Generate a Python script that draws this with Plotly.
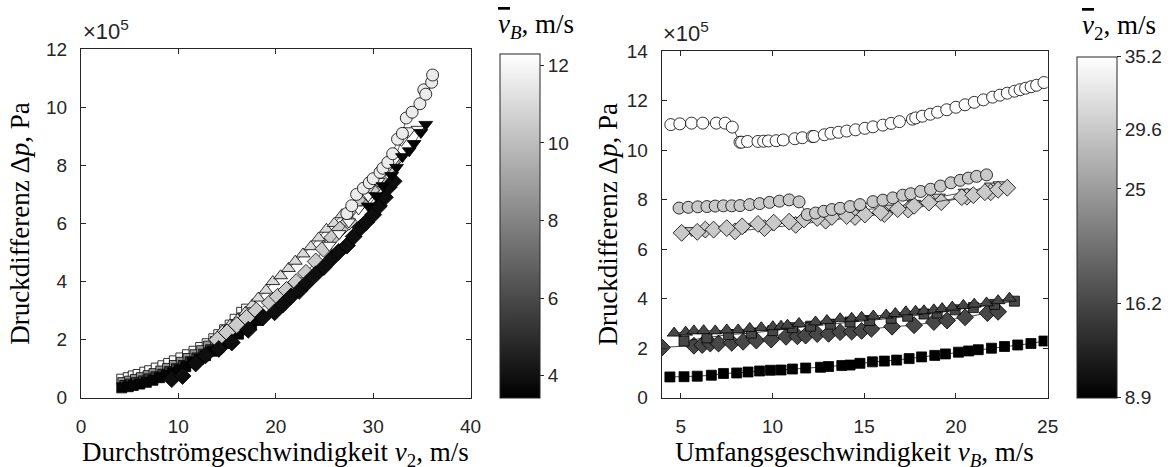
import plotly.graph_objects as go

# ---------------- left panel: dp vs v2, colour = mean v_B ----------------
L_sq_black_x = [4.19,4.86,5.37,6.04,6.72,7.39,8.07,8.74,9.42,10.10,10.76,11.44,12.12,12.79,13.47,14.15,14.82,15.49,16.17,16.84,17.52,18.20]
L_sq_black_y = [0.34,0.38,0.42,0.47,0.53,0.60,0.69,0.77,0.86,0.96,1.07,1.21,1.33,1.45,1.60,1.73,1.87,2.03,2.19,2.34,2.50,2.66]
L_sq_dark_x = [4.5,5.1,5.7,6.4,7.0,7.7,8.4,9.1,9.8,10.5,11.2,11.9,12.6,13.3,14.0,14.7,15.4,16.1]
L_sq_dark_y = [0.42,0.47,0.52,0.58,0.65,0.72,0.81,0.90,1.00,1.11,1.24,1.37,1.50,1.65,1.80,1.96,2.13,2.32]
L_sq_mid_x = [4.3,5.0,5.6,6.2,6.9,7.5,8.2,8.9,9.6,10.3,11.0,11.7,12.4,13.1,13.8,14.5,15.2,15.9,16.6]
L_sq_mid_y = [0.52,0.57,0.63,0.69,0.76,0.83,0.92,1.01,1.11,1.22,1.35,1.48,1.62,1.78,1.94,2.12,2.31,2.52,2.75]
L_sq_white_x = [4.19,4.86,5.37,5.87,6.55,7.06,7.73,8.41,9.01,9.59,10.26,10.94,11.61,12.29,12.96,13.64,14.15,14.75,15.32,15.83,16.50,17.01]
L_sq_white_y = [0.64,0.69,0.75,0.80,0.88,0.93,1.02,1.10,1.18,1.27,1.37,1.48,1.60,1.73,1.86,2.03,2.17,2.34,2.50,2.70,2.94,3.05]
L_dia_black_x = [9.32,10.43,11.78,12.79,14.15,15.49,17.18,18.70,19.88,20.73,21.57,22.41,23.19,24.10,24.94,25.79,26.46,27.31,28.0,28.7,29.3,30.0,30.6,31.2,31.6,32.1]
L_dia_black_y = [0.64,0.75,1.18,1.46,1.68,1.90,2.34,2.77,2.94,3.21,3.49,3.68,3.95,4.25,4.50,4.80,5.02,5.24,5.55,5.85,6.05,6.30,6.60,6.90,7.25,7.45]
L_tri_dn_black_x = [29.5,30.3,31.0,31.9,32.4,33.0,33.7,34.2,34.9,35.4]
L_tri_dn_black_y = [6.60,6.95,7.30,7.65,7.93,8.30,8.50,8.75,9.13,9.41]
L_tri_up_x = [14.5,15.3,16.1,16.9,17.6,18.2,19.0,19.7,20.5,21.3,22.0,22.8,23.6,24.4,25.2,26.0,26.8]
L_tri_up_y = [2.30,2.50,2.70,2.95,3.20,3.43,3.70,4.00,4.20,4.45,4.70,4.95,5.20,5.50,5.80,6.00,6.30]
L_dia_light_x = [14.0,15.0,16.0,17.0,18.0,19.4,20.2,21.1,22.1,23.1,24.1,24.9,25.8,26.6,27.5,28.7,29.8,30.7,31.6,32.4]
L_dia_light_y = [2.00,2.25,2.50,2.75,3.00,3.27,3.48,3.71,3.98,4.30,4.69,5.13,5.51,5.79,6.06,6.70,7.15,7.50,7.90,8.25]
L_tri_dn_white_x = [25.5,26.5,27.5,28.5,29.5,30.5,31.3,32.2,32.9,33.7,34.6]
L_tri_dn_white_y = [5.25,5.65,6.05,6.50,6.95,7.45,7.85,8.20,8.86,9.19,9.24]
L_circ_x = [27.3,27.8,28.3,29.0,29.6,30.0,30.7,31.0,31.5,32.0,32.5,33.0,33.4,34.0,34.8,35.2,35.4,36.0,36.1]
L_circ_y = [6.34,6.61,7.00,7.21,7.40,7.54,7.76,7.90,8.10,8.40,8.90,9.10,9.63,9.83,10.12,10.60,10.45,10.86,11.11]

# (x, y, mean v_B, marker symbol)
left_series = [
    (L_sq_white_x, L_sq_white_y, 12.2, "square"),
    (L_sq_mid_x, L_sq_mid_y, 8.5, "square"),
    (L_sq_dark_x, L_sq_dark_y, 5.5, "square"),
    (L_sq_black_x, L_sq_black_y, 3.6, "square"),
    (L_tri_up_x, L_tri_up_y, 11.0, "triangle-up"),
    (L_dia_light_x, L_dia_light_y, 10.5, "diamond"),
    (L_dia_black_x, L_dia_black_y, 3.9, "diamond"),
    (L_tri_dn_white_x, L_tri_dn_white_y, 12.0, "triangle-down"),
    (L_circ_x, L_circ_y, 11.6, "circle"),
    (L_tri_dn_black_x, L_tri_dn_black_y, 3.5, "triangle-down"),
]

# ---------------- right panel: dp vs v_B, colour = mean v2 ----------------
R_circ_white_x = [4.46,4.95,5.59,6.20,6.94,7.42,7.81,8.23,8.32,8.64,9.21,9.52,9.78,10.20,10.59,11.22,11.63,12.17,12.26,12.83,13.19,13.60,14.05,14.53,15.04,15.48,16.02,16.47,16.92,17.63,17.81,18.17,18.60,19.00,19.50,20.00,20.50,21.00,21.50,22.00,22.40,22.80,23.20,23.50,23.80,24.10,24.40,24.80]
R_circ_white_y = [11.03,11.06,11.09,11.09,11.09,11.09,10.93,10.32,10.32,10.35,10.35,10.36,10.37,10.38,10.41,10.46,10.50,10.55,10.55,10.62,10.68,10.72,10.77,10.82,10.88,10.94,11.01,11.08,11.15,11.25,11.30,11.37,11.45,11.53,11.63,11.73,11.83,11.93,12.03,12.14,12.22,12.30,12.38,12.44,12.50,12.56,12.62,12.73]
R_circ_gray_x = [4.91,5.41,5.93,6.43,6.88,7.33,7.78,8.23,8.76,9.30,9.84,10.38,10.91,11.45,11.90,12.35,12.80,13.24,13.69,14.23,14.77,15.48,16.02,16.56,17.10,17.54,18.08,18.62,19.16,19.73,20.23,20.68,21.13,21.67]
R_circ_gray_y = [7.66,7.69,7.71,7.72,7.74,7.75,7.75,7.76,7.80,7.84,7.89,7.94,7.99,7.91,7.40,7.46,7.53,7.60,7.65,7.72,7.80,7.92,7.98,8.07,8.18,8.24,8.33,8.42,8.55,8.68,8.78,8.87,8.94,9.00]
R_dia_light_x = [5.05,5.90,6.79,7.51,8.35,9.21,10.07,10.91,11.72,12.44,13.24,14.05,15.04,15.90,16.83,17.72,18.53,20.32,20.95,21.58,22.30,22.80]
R_dia_light_y = [6.66,6.70,6.79,6.85,6.92,7.02,7.07,7.11,7.20,7.26,7.30,7.34,7.40,7.49,7.62,7.75,7.88,8.10,8.18,8.30,8.40,8.48]
R_dia_light2_x = [6.34,7.96,9.57,11.27,12.90,14.50,16.10,17.40,19.20,20.60,21.90]
R_dia_light2_y = [6.79,6.72,6.85,6.98,7.15,7.30,7.42,7.60,7.90,8.12,8.30]
R_tri_dn_x = [5.60,6.90,8.50,10.00,11.50,13.00,14.77,16.29,17.70,19.05,20.50,21.94,22.40]
R_tri_dn_y = [6.75,6.80,6.90,7.00,7.15,7.35,7.59,7.66,7.85,8.10,8.30,8.55,8.60]
R_tri_up_x = [4.64,5.27,5.72,6.25,6.88,7.51,8.13,8.76,9.39,10.02,10.47,10.82,11.45,12.35,12.97,13.69,14.32,14.86,15.50,16.20,16.70,17.27,17.80,18.26,18.80,19.25,19.80,20.41,21.00,21.67,22.30,22.92]
R_tri_up_y = [2.61,2.65,2.70,2.71,2.70,2.74,2.74,2.80,2.83,2.87,2.89,2.93,3.00,3.06,3.12,3.19,3.21,3.25,3.30,3.34,3.40,3.47,3.49,3.51,3.55,3.60,3.66,3.73,3.78,3.83,3.92,4.02]
R_sq_dark_x = [5.18,6.43,7.60,8.85,10.02,11.09,12.08,13.16,14.23,15.30,16.47,17.37,18.26,18.98,19.96,20.95,22.11,23.19]
R_sq_dark_y = [2.29,2.42,2.55,2.61,2.71,2.83,2.89,2.97,3.06,3.12,3.21,3.29,3.38,3.42,3.55,3.64,3.77,3.90]
R_dia_dark_x = [3.98,5.72,6.17,6.61,7.06,7.78,8.40,9.12,9.93,10.74,11.36,11.81,12.44,13.06,13.69,14.32,14.86,15.39,16.52,17.72,18.80,19.52,20.50,21.72,22.30]
R_dia_dark_y = [2.03,2.10,2.13,2.19,2.19,2.22,2.26,2.31,2.35,2.46,2.48,2.51,2.57,2.58,2.65,2.67,2.70,2.78,2.87,2.93,3.06,3.12,3.25,3.42,3.47]
R_sq_black_x = [4.41,5.18,5.90,6.67,7.33,8.05,8.67,9.30,9.89,10.47,11.09,11.81,12.62,13.06,13.78,14.23,14.77,15.45,16.10,16.77,17.45,18.13,18.85,19.43,20.14,20.70,21.22,21.94,22.65,23.37,24.09,24.80]
R_sq_black_y = [0.84,0.85,0.87,0.91,0.98,1.00,1.04,1.08,1.11,1.12,1.16,1.20,1.23,1.26,1.30,1.32,1.39,1.45,1.48,1.52,1.58,1.65,1.71,1.77,1.84,1.89,1.94,2.00,2.07,2.13,2.19,2.29]

right_series = [
    (R_sq_black_x, R_sq_black_y, 8.9, "square"),
    (R_dia_dark_x, R_dia_dark_y, 16.2, "diamond"),
    (R_sq_dark_x, R_sq_dark_y, 16.2, "square"),
    (R_tri_up_x, R_tri_up_y, 16.2, "triangle-up"),
    (R_tri_dn_x, R_tri_dn_y, 29.6, "triangle-down"),
    (R_dia_light2_x, R_dia_light2_y, 29.6, "diamond"),
    (R_dia_light_x, R_dia_light_y, 29.6, "diamond"),
    (R_circ_gray_x, R_circ_gray_y, 29.6, "circle"),
    (R_circ_white_x, R_circ_white_y, 35.2, "circle"),
]

left_cticks = [4, 6, 8, 10, 12]
right_cticks = [8.9, 16.2, 25, 29.6, 35.2]

AX = "#262626"
TICKFONT = dict(family="Liberation Sans, Arial, sans-serif", size=19, color=AX)
SERIF = "Liberation Serif, serif"
TSIZE = 27
TFONT = dict(family=SERIF, size=TSIZE, color="black")
GRAY = [[0, "black"], [1, "white"]]

fig = go.Figure()
sizes = {"circle": 12, "square": 10, "diamond": 13, "triangle-up": 12, "triangle-down": 12}

for xs, ys, c, sym in left_series:
    fig.add_trace(go.Scatter(
        x=xs, y=ys, mode="lines+markers", xaxis="x", yaxis="y",
        line=dict(color="black", width=0.6),
        marker=dict(symbol=sym, size=sizes[sym], color=[c] * len(xs), coloraxis="coloraxis",
                    line=dict(color="black", width=0.8)),
        showlegend=False))

for xs, ys, c, sym in right_series:
    fig.add_trace(go.Scatter(
        x=xs, y=ys, mode="lines+markers", xaxis="x2", yaxis="y2",
        line=dict(color="black", width=0.7),
        marker=dict(symbol=sym, size=sizes[sym], color=[c] * len(xs), coloraxis="coloraxis2",
                    line=dict(color="black", width=0.8)),
        showlegend=False))

W, H = 1176, 467
def px(x): return x / W
def py(y): return (H - y) / H

axis_common = dict(showline=True, linecolor=AX, linewidth=1, mirror="ticks", ticks="inside",
                   ticklen=5, tickcolor=AX, tickfont=TICKFONT, showgrid=False, zeroline=False)

fig.update_layout(
    width=W, height=H, margin=dict(l=0, r=0, t=0, b=0),
    paper_bgcolor="white", plot_bgcolor="white",
    xaxis=dict(domain=[px(77), px(472)], range=[0, 40], tickvals=[0, 10, 20, 30, 40], anchor="y",
               ticklabelstandoff=11, **axis_common),
    yaxis=dict(domain=[py(406), py(41)], range=[0, 12], tickvals=[0, 2, 4, 6, 8, 10, 12], anchor="x",
               ticklabelstandoff=9, **axis_common),
    xaxis2=dict(domain=[px(665.7), px(1057)], range=[3.96, 25], tickvals=[5, 10, 15, 20, 25], anchor="y2",
                ticklabelstandoff=11, **axis_common),
    yaxis2=dict(domain=[py(406), py(43)], range=[0, 14], tickvals=[0, 2, 4, 6, 8, 10, 12, 14], anchor="x2",
                ticklabelstandoff=9, **axis_common),
    coloraxis=dict(colorscale=GRAY, cmin=3.43, cmax=12.3,
                   colorbar=dict(x=px(501.7), xanchor="left", y=py(406), yanchor="bottom",
                                 len=(406 - 45.7) / H, lenmode="fraction",
                                 thickness=40, thicknessmode="pixels", xpad=0, ypad=0,
                                 outlinewidth=1, outlinecolor=AX,
                                 tickvals=left_cticks, ticks="outside", ticklen=4, tickcolor=AX,
                                 tickfont=TICKFONT)),
    coloraxis2=dict(colorscale=GRAY, cmin=8.9, cmax=35.2,
                    colorbar=dict(x=px(1087), xanchor="left", y=py(406), yanchor="bottom",
                                  len=(406 - 49) / H, lenmode="fraction",
                                  thickness=40, thicknessmode="pixels", xpad=0, ypad=0,
                                  outlinewidth=1, outlinecolor=AX,
                                  tickvals=right_cticks, ticktext=["8.9", "16.2", "25", "29.6", "35.2"],
                                  ticks="outside", ticklen=4, tickcolor=AX,
                                  tickfont=TICKFONT)),
)

def ann(x, y, text, font, angle=0, xanchor="center", yanchor="middle"):
    fig.add_annotation(x=px(x), y=py(y), xref="paper", yref="paper", xanchor=xanchor, yanchor=yanchor,
                       text=text, showarrow=False, font=font, textangle=angle)

# axis titles
ann(274.5, 465, "Durchströmgeschwindigkeit <i>v</i><sub>2</sub>, m/s", TFONT)
ann(861.5, 465, "Umfangsgeschwindigkeit <i>v<sub>B</sub></i>, m/s", TFONT)
ann(15, 223, "Druckdifferenz Δ<i>p</i>, Pa", TFONT, angle=-90)
ann(611, 224, "Druckdifferenz Δ<i>p</i>, Pa", TFONT, angle=-90)

# exponent labels
ann_font = dict(family="Liberation Sans, Arial, sans-serif", size=22, color=AX)
ann(77, 38, "×10<sup>5</sup>", ann_font, xanchor="left", yanchor="bottom")
ann(665, 40, "×10<sup>5</sup>", ann_font, xanchor="left", yanchor="bottom")

# colorbar titles
ov = '<span style="text-decoration:overline"><i>v</i></span>'
ann(538, 17, ov + "<sub><i>B</i></sub>, m/s", TFONT)
ann(1129, 18, ov + "<sub>2</sub>, m/s", TFONT)

fig.write_html("out.html")
